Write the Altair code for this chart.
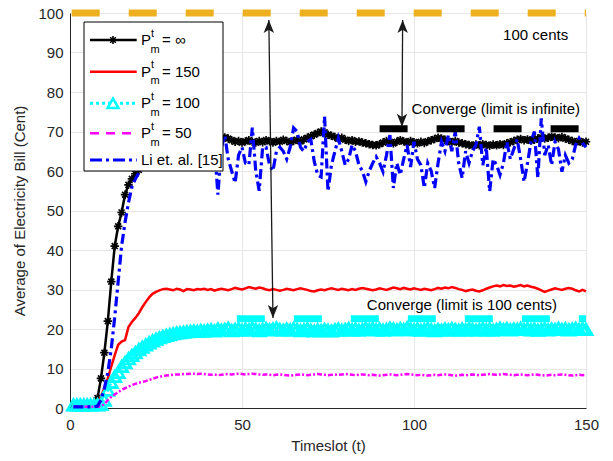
import altair as alt
import pandas as pd

FONT = "Liberation Sans"

# ---------------- data ----------------
t = list(range(1, 151))

black = [0.2, 0.2, 0.2, 0.2, 0.2, 0.2, 0.3, 2.5, 7.5, 14,
         22, 32, 41, 46, 49.5, 54, 56.5, 58, 59.3, 60.3,
         61.3, 62.2, 63, 63.7, 64.3, 64.8, 65.2, 65.6, 66, 66.2,
         66.5, 66.8, 67, 67.2, 67, 67.3, 67.5, 67.2, 67.6, 67.8,
         67.5, 68, 68.2, 68.4, 68.5, 68.2, 67.8, 67.4, 67.6, 67.2,
         67.5, 67.8, 67.4, 67.2, 67.6, 67.3, 67.8, 67.5, 67.2, 67.6,
         67.4, 67.9, 67.6, 67.3, 67.6, 67.9, 67.5, 68.0, 68.4, 68.8,
         69.2, 69.6, 70.0, 69.8, 69.2, 68.9, 68.6, 68.2, 68.4, 67.9,
         67.6, 67.8, 67.4, 67.5, 67.2, 67.0, 66.8, 66.6, 66.5, 66.8,
         67.2, 67.6, 67.3, 67.0, 67.4, 67.8, 67.5, 67.2, 67.6, 67.3,
         67.0, 67.4, 67.1, 67.5, 67.8, 68.1, 68.4, 68.2, 67.9, 67.6,
         67.3, 67.6, 67.2, 67.0, 66.8, 66.6, 66.4, 66.7, 66.5, 66.8,
         66.6, 66.4, 66.7, 66.5, 66.8, 66.6, 67.0, 67.3, 67.6, 67.9,
         68.1, 67.8, 68.0, 67.7, 67.9, 68.2, 68.5, 68.2, 68.4, 68.7,
         68.5, 68.3, 68.6, 68.2, 67.9, 67.6, 67.3, 67.6, 67.2, 67.4]

red = [0.2, 0.2, 0.2, 0.2, 0.2, 0.2, 0.3, 1.0, 3.0, 5.0,
       7.5, 10.5, 13.4, 16.0, 16.8, 17.2, 20.5, 21.8, 22.8, 24.0,
       25.5, 26.8, 28.0, 28.9, 29.4, 29.8, 30.1, 30.2, 30.0, 29.8,
       30.2, 30.0, 29.6, 30.1, 30.0, 29.8, 30.1, 30.0, 30.2, 29.9,
       30.1, 29.7, 30.0, 30.2, 30.0, 29.8, 30.1, 30.4, 30.2, 30.0,
       30.3, 30.6, 30.4, 30.2, 30.5, 30.3, 30.0, 29.8, 30.1, 29.9,
       29.7, 29.9, 30.2, 30.0, 29.8, 30.1, 30.3, 30.1, 29.9, 29.6,
       29.5, 29.8, 30.0, 29.8, 30.1, 30.3, 30.1, 29.9, 30.2, 30.0,
       29.8, 30.1, 29.9, 30.2, 30.4, 30.2, 30.0, 29.8, 30.0, 30.3,
       30.1, 29.9, 30.2, 30.5, 30.3, 30.1, 30.4, 30.2, 30.0, 30.3,
       30.1, 29.9, 30.2, 30.0, 29.8, 30.1, 30.4, 30.2, 30.5, 30.3,
       30.6, 30.4, 30.1, 29.9, 29.6, 29.8, 30.0, 29.7, 29.5, 29.8,
       30.2, 30.5, 30.8, 31.0, 30.8, 31.1, 30.9, 31.0, 30.7, 30.9,
       31.1, 30.8, 31.0, 30.7, 30.5, 30.2, 29.8, 29.4, 29.7, 30.0,
       30.3, 30.1, 29.9, 30.2, 30.4, 30.2, 29.8, 29.5, 29.9, 29.5]

cyan = [0.8, 0.8, 0.8, 0.8, 0.8, 0.8, 0.8, 0.8, 0.9, 2.0,
        4.5, 6.5, 8.0, 9.0, 10.5, 11.5, 12.5, 13.3, 14.0, 14.8,
        15.4, 16.0, 16.5, 17.0, 17.4, 17.8, 18.1, 18.4, 18.6, 18.8,
        19.0, 19.1, 19.2, 19.3, 19.4, 19.5, 19.4, 19.6, 19.5, 19.7,
        19.8, 19.5, 20.0, 19.7, 19.9, 20.2, 19.6, 19.9, 20.1, 19.7,
        20.0, 19.8, 20.2, 19.9, 19.6, 19.9, 20.1, 19.8, 20.0, 20.3,
        19.9, 19.7, 20.0, 19.8, 20.1, 19.9, 19.6, 19.8, 20.0, 19.7,
        19.5, 19.8, 19.6, 19.9, 19.7, 19.5, 19.8, 20.0, 19.7, 19.9,
        20.1, 19.8, 20.0, 19.7, 19.9, 20.2, 19.9, 20.1, 19.8, 20.0,
        19.7, 19.9, 20.2, 20.0, 19.8, 20.1, 19.9, 20.3, 20.0, 19.8,
        20.0, 19.7, 19.9, 20.1, 19.8, 19.6, 19.9, 19.7, 20.0, 19.8,
        20.1, 19.9, 19.7, 20.0, 19.8, 20.1, 19.9, 19.7, 19.9, 20.1,
        19.8, 20.0, 19.7, 19.9, 20.2, 19.9, 20.1, 19.8, 20.0, 19.9,
        20.2, 19.9, 20.1, 19.8, 20.0, 19.7, 19.9, 20.1, 19.8, 20.0,
        19.9, 20.2, 19.9, 20.1, 19.8, 20.0, 20.2, 19.9, 20.1, 19.9]

magenta = [0.3, 0.3, 0.3, 0.3, 0.3, 0.3, 0.3, 0.3, 0.4, 1.0,
           2.0, 2.8, 3.4, 4.0, 4.6, 5.0, 5.4, 5.8, 6.1, 6.4,
           6.6, 6.8, 7.1, 7.4, 7.7, 7.9, 8.1, 8.2, 8.3, 8.4,
           8.5, 8.5, 8.6, 8.6, 8.7, 8.7, 8.6, 8.7, 8.6, 8.5,
           8.4, 8.5, 8.3, 8.4, 8.5, 8.6, 8.5, 8.6, 8.7, 8.6,
           8.5, 8.6, 8.7, 8.6, 8.5, 8.4, 8.5, 8.4, 8.3, 8.4,
           8.5, 8.4, 8.3, 8.2, 8.3, 8.4, 8.5, 8.4, 8.3, 8.4,
           8.5, 8.6, 8.5, 8.4, 8.3, 8.4, 8.5, 8.4, 8.5, 8.6,
           8.5, 8.4, 8.3, 8.4, 8.5, 8.4, 8.3, 8.4, 8.3, 8.2,
           8.3, 8.4, 8.5, 8.4, 8.3, 8.4, 8.5, 8.6, 8.5, 8.4,
           8.3, 8.4, 8.3, 8.2, 8.3, 8.4, 8.3, 8.4, 8.5, 8.4,
           8.3, 8.2, 8.3, 8.4, 8.3, 8.4, 8.5, 8.4, 8.3, 8.4,
           8.5, 8.6, 8.5, 8.4, 8.5, 8.6, 8.5, 8.4, 8.3, 8.4,
           8.5, 8.4, 8.3, 8.4, 8.5, 8.4, 8.3, 8.2, 8.3, 8.4,
           8.3, 8.4, 8.5, 8.4, 8.3, 8.2, 8.3, 8.4, 8.3, 8.4]

blue = [0.3, 0.3, 0.3, 0.3, 0.3, 0.3, 0.3, 0.5, 2.0, 5.0,
        9.0, 15.0, 23.0, 32.0, 41.0, 47.0, 52.0, 56.0, 58.0, 59.5,
        60.5, 61.5, 62.5, 63.5, 64.0, 64.8, 65.5, 66.0, 64.5, 66.5,
        64.0, 67.0, 65.0, 63.5, 66.5, 68.0, 64.0, 62.0, 66.0, 67.5,
        63.0, 66.0, 54.0, 66.0, 69.0, 63.0, 60.0, 57.0, 64.0, 66.0,
        62.0, 61.5, 71.0, 60.0, 55.0, 66.0, 66.0, 61.5, 60.0, 65.0,
        66.0, 65.0, 63.0, 66.0, 70.9, 70.0, 66.0, 65.0, 67.4, 68.0,
        62.4, 59.0, 58.5, 73.8, 54.8, 61.5, 64.9, 68.3, 65.0, 61.5,
        63.0, 66.6, 65.0, 61.5, 60.0, 57.3, 60.0, 62.0, 63.6, 62.0,
        59.8, 64.0, 69.1, 55.7, 62.0, 59.0, 63.0, 66.6, 61.0, 67.4,
        63.0, 61.5, 55.7, 62.0, 60.0, 55.7, 62.0, 67.4, 65.0, 69.1,
        65.0, 70.0, 62.0, 58.2, 65.0, 62.0, 65.0, 66.6, 71.2, 61.5,
        66.0, 54.8, 63.0, 61.5, 59.0, 62.0, 67.4, 63.0, 65.5, 68.0,
        63.0, 57.3, 62.0, 67.4, 70.0, 58.2, 73.3, 64.0, 66.6, 61.5,
        67.4, 65.5, 59.8, 64.0, 62.0, 63.0, 66.6, 68.3, 67.0, 66.0]

# limit lines (dashed thick bars)
limit_start = [0.5, 90.0, 48.5]
limit_end = [150.0, 150.0, 150.0]
limit_value = [100.0, 70.7, 22.6]
limit_color = ["#EDB120", "#000000", "#00FFFF"]

# double-headed arrows
arrow_t_top = [57.8, 96.7]
arrow_v_top = [98.2, 98.2]
arrow_t_bot = [59.0, 96.5]
arrow_v_bot = [22.8, 71.2]

# annotation texts
note_text = ["100 cents", "Converge (limit is infinite)", "Converge (limit is 100 cents)"]
note_t = [125.9, 99.3, 86.3]
note_v = [94.4, 75.7, 26.1]

# legend
legend_eq = ["= \u221e", "= 150", "= 100", "= 50"]
legend_other = "Li et. al. [15]"

x_ticks = [0, 50, 100, 150]
y_ticks = list(range(0, 101, 10))

# ---------------- chart ----------------
W, H = 516, 395
TXT = "#262626"

def X(field):
    return alt.X(field, type="quantitative",
                 scale=alt.Scale(domain=[0, 150], nice=False, zero=False),
                 axis=alt.Axis(values=x_ticks, title="Timeslot (t)", ticks=False,
                               labelFlush=False, labelPadding=9, titlePadding=6, format="d"))

def Y(field):
    return alt.Y(field, type="quantitative",
                 scale=alt.Scale(domain=[0, 100], nice=False),
                 axis=alt.Axis(values=y_ticks, title="Average of Electricity Bill (Cent)",
                               labelFlush=False, ticks=False, labelPadding=7, titlePadding=10,
                               format="d"))

def series_df(vals):
    return pd.DataFrame({"t": t, "v": vals})

layers = []
# black P = inf
layers.append(alt.Chart(series_df(black)).mark_line(color="black", strokeWidth=2.5)
              .encode(x=X("t"), y=Y("v")))
ASTER = "M-1,0L1,0M0,-1L0,1M-0.7,-0.7L0.7,0.7M-0.7,0.7L0.7,-0.7"
layers.append(alt.Chart(series_df(black)).mark_point(shape=ASTER, filled=False, color="black",
                                                     size=72, strokeWidth=1.7, opacity=1)
              .encode(x=X("t"), y=Y("v")))
# red 150
layers.append(alt.Chart(series_df(red)).mark_line(color="#FF0000", strokeWidth=2.5)
              .encode(x=X("t"), y=Y("v")))
# cyan 100
layers.append(alt.Chart(series_df(cyan)).mark_line(color="#00FFFF", strokeWidth=2.5, strokeDash=[3, 3])
              .encode(x=X("t"), y=Y("v")))
layers.append(alt.Chart(series_df(cyan)).mark_point(shape="triangle-up", filled=False, color="#00FFFF",
                                                    size=144, strokeWidth=2.8, opacity=1)
              .encode(x=X("t"), y=Y("v")))
# magenta 50
layers.append(alt.Chart(series_df(magenta)).mark_line(color="#FF00FF", strokeWidth=2.5, strokeDash=[5, 2, 2, 2])
              .encode(x=X("t"), y=Y("v")))
# blue Li et al
layers.append(alt.Chart(series_df(blue)).mark_line(color="#0000FF", strokeWidth=3.2, strokeDash=[10, 4, 3, 4])
              .encode(x=X("t"), y=Y("v")))

# limit bars
for s, e, v, c in zip(limit_start, limit_end, limit_value, limit_color):
    d = pd.DataFrame({"t0": [s], "t1": [e], "v": [v]})
    layers.append(alt.Chart(d).mark_rule(color=c, strokeWidth=7, strokeDash=[28, 29])
                  .encode(x=X("t0"), x2="t1:Q", y=Y("v")))

# arrows
arr = pd.DataFrame({"ta": arrow_t_top, "va": arrow_v_top, "tb": arrow_t_bot, "vb": arrow_v_bot})
layers.append(alt.Chart(arr).mark_rule(color="#1a1a1a", strokeWidth=1.3)
              .encode(x=X("ta"), y=Y("va"), x2="tb:Q", y2="vb:Q"))
UP = "M0,0L-0.8,2L0,1.5L0.8,2Z"
DOWN = "M0,0L-0.8,-2L0,-1.5L0.8,-2Z"
layers.append(alt.Chart(arr).mark_point(shape=UP, filled=True, color="#1a1a1a", size=169, opacity=1)
              .encode(x=X("ta"), y=Y("va")))
layers.append(alt.Chart(arr).mark_point(shape=DOWN, filled=True, color="#1a1a1a", size=169, opacity=1)
              .encode(x=X("tb"), y=Y("vb")))

# notes
notes = pd.DataFrame({"t": note_t, "v": note_v, "label": note_text})
layers.append(alt.Chart(notes).mark_text(align="left", baseline="middle", fontSize=15, font=FONT, color="black")
              .encode(x=X("t"), y=Y("v"), text="label:N"))

# ---------------- legend (drawn inside plot area) ----------------
one = alt.Data(values=[{}])
BOX = (14, 153, 9, 158)
ROWS = [27, 58.7, 90.3, 120.3, 147]
LX0, LX1, LXM = 20, 66.7, 43
TX = 71

layers.append(alt.Chart(one).mark_rect(fill="white", stroke="black", strokeWidth=1)
              .encode(x=alt.value(BOX[0]), x2=alt.value(BOX[1]), y=alt.value(BOX[2]), y2=alt.value(BOX[3])))

leg_styles = [
    dict(color="black", strokeWidth=2.5),
    dict(color="#FF0000", strokeWidth=2.5),
    dict(color="#00FFFF", strokeWidth=3, strokeDash=[3, 3]),
    dict(color="#FF00FF", strokeWidth=2.5, strokeDash=[9, 7]),
    dict(color="#0000FF", strokeWidth=3, strokeDash=[12, 4, 3, 4]),
]
for i, st in enumerate(leg_styles):
    y = ROWS[i]
    layers.append(alt.Chart(one).mark_rule(**st)
                  .encode(x=alt.value(LX0), x2=alt.value(LX1), y=alt.value(y)))
layers.append(alt.Chart(one).mark_point(shape=ASTER, filled=False, color="black", size=64,
                                        strokeWidth=1.6, opacity=1)
              .encode(x=alt.value(LXM), y=alt.value(ROWS[0])))
layers.append(alt.Chart(one).mark_point(shape="triangle-up", filled=True, fill="white", stroke="#00FFFF",
                                        size=121, strokeWidth=2.5, opacity=1)
              .encode(x=alt.value(LXM), y=alt.value(ROWS[2])))

def ptext(txt, x, y, size, base="alphabetic"):
    return (alt.Chart(one).mark_text(text=txt, fontSize=size, font=FONT, color="black",
                                     align="left", baseline=base)
            .encode(x=alt.value(x), y=alt.value(y)))

for i, eq in enumerate(legend_eq):
    y = ROWS[i]
    layers.append(ptext("P", TX, y + 5, 15))
    layers.append(ptext("t", TX + 10, y - 3.5, 11))
    layers.append(ptext("m", TX + 9.5, y + 12.5, 11))
    layers.append(ptext(eq, TX + 21, y + 5, 15))
layers.append(ptext(legend_other, TX, ROWS[4] + 5, 15))

chart = (alt.layer(*layers)
         .properties(width=W, height=H,
                     autosize=alt.AutoSizeParams(type="none"),
                     padding={"left": 70, "top": 13, "right": 27, "bottom": 53},
                     background="white")
         .configure_view(stroke=None)
         .configure_axis(grid=True, gridColor="#e6e6e6", gridWidth=1,
                         domainColor=TXT, domainWidth=1,
                         labelFont=FONT, labelFontSize=15, labelColor=TXT,
                         titleFont=FONT, titleFontSize=15, titleFontWeight="normal", titleColor=TXT))

chart.save("out.html", embed_options={"renderer": "svg", "actions": False})
